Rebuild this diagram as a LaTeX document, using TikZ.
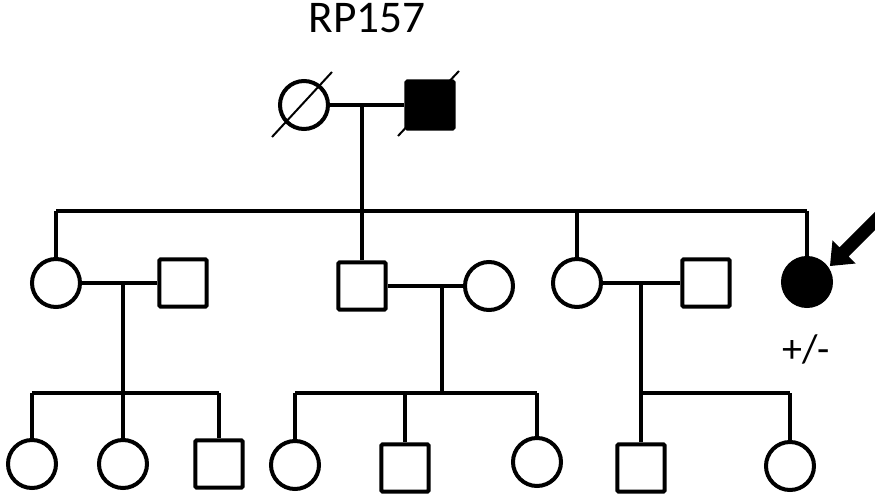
\documentclass[tikz,border=0pt]{standalone}
\usepackage{fontspec}
\setmainfont{Carlito}
\begin{document}
\begin{tikzpicture}[x=0.75pt,y=-0.75pt,
  fem/.style={circle,draw,minimum size=36pt,inner sep=0pt,line width=3pt},
  mal/.style={rectangle,draw,minimum size=35.5pt,inner sep=0pt,rounded corners=1pt,line width=3pt},
  aff/.style={fill=black},
  link/.style={line width=2.7pt},
  slash/.style={line width=1.5pt},
  lbl/.style={inner sep=0pt}]
\useasboundingbox (0,0) rectangle (875,495);
\clip (0,0) rectangle (875,495);

% title
\node[lbl,font=\fontsize{34}{38}\selectfont] (title) at (367,18) {RP157};

% generation I
\node[fem] (I1) at (304,105) {};
\node[mal,aff] (I2) at (430,105) {};
\draw[slash] ([shift={(-32,32)}]I1.center) -- ([shift={(28,-33)}]I1.center);
\draw[slash] ([shift={(-32,31)}]I2.center) -- ([shift={(29,-34)}]I2.center);
\draw[link] (I1) -- (I2);
\coordinate (m0) at (362,105);
\coordinate (s0) at (362,211);
\draw[link] (m0) -- (s0);

% generation II
\node[fem] (II1) at (56,283) {};
\node[mal] (II2) at (183,283) {};
\node[mal] (II3) at (362,286) {};
\node[fem] (II4) at (489,286) {};
\node[fem] (II5) at (577,283) {};
\node[mal] (II6) at (706,283) {};
\node[fem,aff] (II7) at (807,282) {};
\draw[link] (II1 |- s0) -- (II7 |- s0);
\foreach \n in {II1,II3,II5,II7} \draw[link] (\n |- s0) -- (\n);

\draw[link] (II1) -- (II2);
\draw[link] (II3) -- (II4);
\draw[link] (II5) -- (II6);

\coordinate (m1) at (123,283);
\coordinate (m2) at (442,286);
\coordinate (m3) at (641,283);
\coordinate (s1) at (123,393);
\coordinate (s2) at (442,393);
\coordinate (s3) at (641,393);
\draw[link] (m1) -- (s1);
\draw[link] (m2) -- (s2);
\draw[link] (m3) -- (s3);

% proband arrow and label
\fill (830,266) -- (832.5,240.3) -- (839.5,247.3) -- (879.5,207.3) -- (888.7,216.5) -- (848.7,256.5) -- (855.7,263.5) -- cycle;
\node[lbl,font=\fontsize{30}{34}\selectfont] (gt) at (806,349) {+/-};

% generation III
\node[fem] (III1) at (32,464) {};
\node[fem] (III2) at (123,464) {};
\node[mal] (III3) at (219,464) {};
\node[fem] (III4) at (295,465) {};
\node[mal] (III5) at (405,468) {};
\node[fem] (III6) at (537,462) {};
\node[mal] (III7) at (641,468) {};
\node[fem] (III8) at (790,466) {};

\draw[link] (III1 |- s1) -- (III3 |- s1);
\draw[link] (III4 |- s2) -- (III6 |- s2);
\draw[link] (III7 |- s3) -- (III8 |- s3);
\foreach \n/\s in {III1/s1,III2/s1,III3/s1,III4/s2,III5/s2,III6/s2,III7/s3,III8/s3}
  \draw[link] (\n |- \s) -- (\n);
\end{tikzpicture}
\end{document}
